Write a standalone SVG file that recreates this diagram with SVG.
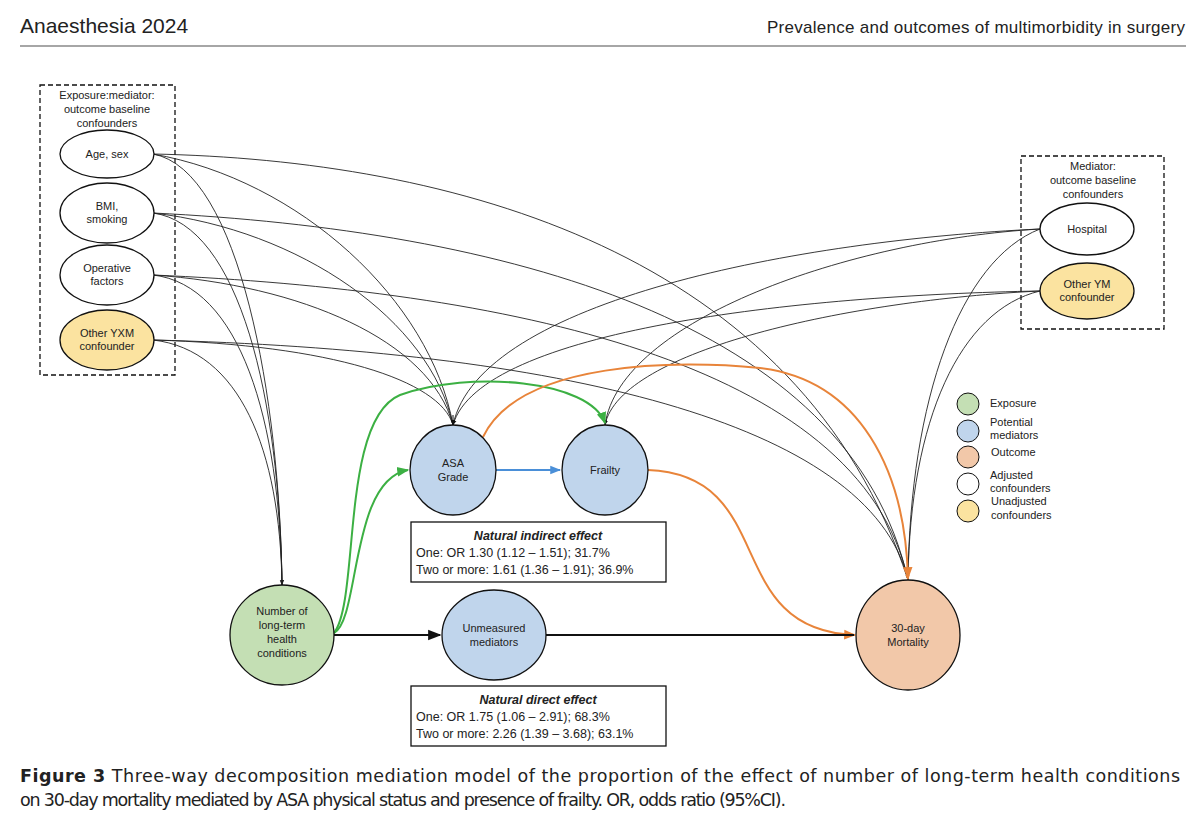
<svg xmlns="http://www.w3.org/2000/svg" width="1200" height="840" viewBox="0 0 1200 840">
<style>
text{font-family:"Liberation Sans",Arial,sans-serif;fill:#222}
.n{font-size:11px;text-anchor:middle}
.e{stroke:#111;stroke-width:1.3}
.c{fill:none;stroke:#222;stroke-width:0.9}
.lg{font-size:11px}
.cap{font-family:"DejaVu Sans",sans-serif;font-size:17.5px}
</style>
<defs>
<marker id="ak" viewBox="0 0 10 10" refX="9" refY="5" markerWidth="6" markerHeight="6" orient="auto"><path d="M0,1 L10,5 L0,9 z" fill="#111"/></marker>
<marker id="ag" viewBox="0 0 10 10" refX="9" refY="5" markerWidth="6" markerHeight="6" orient="auto"><path d="M0,1 L10,5 L0,9 z" fill="#3cb043"/></marker>
<marker id="ao" viewBox="0 0 10 10" refX="9" refY="5" markerWidth="6" markerHeight="6" orient="auto"><path d="M0,1 L10,5 L0,9 z" fill="#e8843a"/></marker>
<marker id="ab" viewBox="0 0 10 10" refX="9" refY="5" markerWidth="6" markerHeight="6" orient="auto"><path d="M0,1 L10,5 L0,9 z" fill="#4a8fd8"/></marker>
</defs>
<rect width="1200" height="840" fill="#fff"/>
<text x="20" y="33" style="font-size:21px">Anaesthesia 2024</text>
<text x="1185" y="33" style="font-size:17px;text-anchor:end" textLength="418">Prevalence and outcomes of multimorbidity in surgery</text>
<line x1="20" y1="46" x2="1186" y2="46" stroke="#888" stroke-width="1.5"/>

<rect x="40" y="85" width="135" height="290" fill="none" stroke="#111" stroke-dasharray="5,3" stroke-width="1.3"/>
<text class="n" x="107" y="99">Exposure:mediator:</text>
<text class="n" x="107" y="113">outcome baseline</text>
<text class="n" x="107" y="127">confounders</text>
<rect x="1021" y="156" width="143" height="173" fill="none" stroke="#111" stroke-dasharray="5,3" stroke-width="1.3"/>
<text class="n" x="1093" y="170">Mediator:</text>
<text class="n" x="1093" y="184">outcome baseline</text>
<text class="n" x="1093" y="198">confounders</text>

<g id="connectors">
<path class="c" marker-end="url(#ak)" d="M153,154 C240,170 280,400 282,585"/>
<path class="c" d="M153,154 C300,180 430,300 453,425"/>
<path class="c" d="M153,154 C450,160 800,250 908,580"/>
<path class="c" d="M153,213 C240,225 280,400 282,585"/>
<path class="c" d="M153,213 C300,230 430,320 453,425"/>
<path class="c" d="M153,213 C500,230 850,320 908,580"/>
<path class="c" d="M153,275 C240,285 280,420 282,585"/>
<path class="c" d="M153,275 C300,285 430,340 453,425"/>
<path class="c" d="M153,275 C500,290 860,360 908,580"/>
<path class="c" d="M153,340 C240,350 280,450 282,585"/>
<path class="c" d="M153,340 C330,345 440,380 453,425"/>
<path class="c" d="M153,340 C550,350 870,420 908,580"/>
<path class="c" d="M1040,229 C800,240 480,300 453,425"/>
<path class="c" d="M1040,229 C850,240 620,320 605,425"/>
<path class="c" d="M1040,229 C960,260 910,400 908,580"/>
<path class="c" marker-end="url(#ak)" d="M1040,291 C800,295 480,330 453,425"/>
<path class="c" marker-end="url(#ak)" d="M1040,291 C850,300 620,350 605,425"/>
<path class="c" d="M1040,291 C960,310 910,420 908,580"/>
<path d="M334,633 C360,620 350,480 408,470" fill="none" stroke="#3cb043" stroke-width="2" marker-end="url(#ag)"/>
<path d="M334,633 C360,600 340,420 400,395 C470,370 590,380 605,423" fill="none" stroke="#3cb043" stroke-width="2" marker-end="url(#ag)"/>
<path d="M483,437 C520,360 680,360 760,368 C860,380 905,470 908,578" fill="none" stroke="#e8843a" stroke-width="2" marker-end="url(#ao)"/>
<path d="M648,470 C780,475 720,630 855,635" fill="none" stroke="#e8843a" stroke-width="2" marker-end="url(#ao)"/>
<path d="M496,470 L560,470" stroke="#4a8fd8" stroke-width="1.8" marker-end="url(#ab)"/>
<path d="M334,635 L440,635" stroke="#111" stroke-width="2.2" marker-end="url(#ak)"/>
<path d="M546,635 L854,635" stroke="#111" stroke-width="2.2"/>
<path d="M453,415 L453,425" stroke="#111" marker-end="url(#ak)"/>
<path d="M907,570 L908,580" stroke="#e8843a" marker-end="url(#ao)"/>
</g>

<g id="age"><ellipse class="e" cx="107" cy="154" rx="47" ry="24" fill="#fff"/><text class="n" x="107" y="158">Age, sex</text></g>
<g id="bmi"><ellipse class="e" cx="107" cy="213" rx="47" ry="30" fill="#fff"/><text class="n" x="107" y="210">BMI,</text><text class="n" x="107" y="223">smoking</text></g>
<g id="oper"><ellipse class="e" cx="107" cy="275" rx="47" ry="30" fill="#fff"/><text class="n" x="107" y="272">Operative</text><text class="n" x="107" y="285">factors</text></g>
<g id="yxm"><ellipse class="e" cx="107" cy="340" rx="47" ry="30" fill="#fbe3a0"/><text class="n" x="107" y="337">Other YXM</text><text class="n" x="107" y="350">confounder</text></g>
<g id="hospital"><ellipse class="e" cx="1087" cy="229" rx="47" ry="26" fill="#fff"/><text class="n" x="1087" y="233">Hospital</text></g>
<g id="ym"><ellipse class="e" cx="1087" cy="291" rx="47" ry="28" fill="#fbe3a0"/><text class="n" x="1087" y="288">Other YM</text><text class="n" x="1087" y="301">confounder</text></g>

<g id="asa"><ellipse class="e" cx="453" cy="470" rx="43" ry="45" fill="#c0d5ec"/><text class="n" x="453" y="467">ASA</text><text class="n" x="453" y="481">Grade</text></g>
<g id="frailty"><ellipse class="e" cx="605" cy="470" rx="43" ry="45" fill="#c0d5ec"/><text class="n" x="605" y="474">Frailty</text></g>
<g id="exposure"><ellipse class="e" cx="282" cy="635" rx="52" ry="50" fill="#c4dfb4"/><text class="n" x="282" y="615">Number of</text><text class="n" x="282" y="629">long-term</text><text class="n" x="282" y="643">health</text><text class="n" x="282" y="657">conditions</text></g>
<g id="unmeasured"><ellipse class="e" cx="494" cy="635" rx="52" ry="45" fill="#c0d5ec"/><text class="n" x="494" y="632">Unmeasured</text><text class="n" x="494" y="646">mediators</text></g>
<g id="mortality"><ellipse class="e" cx="908" cy="635" rx="52" ry="55" fill="#f2c8a9"/><text class="n" x="908" y="632">30-day</text><text class="n" x="908" y="646">Mortality</text></g>

<g id="indirect"><rect x="411" y="522" width="255" height="60" fill="#fff" stroke="#111" stroke-width="1.3"/>
<text x="538" y="540" style="font-size:12.5px;font-weight:bold;font-style:italic;text-anchor:middle">Natural indirect effect</text>
<text x="416" y="557" style="font-size:12.5px">One: OR 1.30 (1.12 – 1.51); 31.7%</text>
<text x="416" y="574" style="font-size:12.5px">Two or more: 1.61 (1.36 – 1.91); 36.9%</text></g>
<g id="direct"><rect x="411" y="686" width="255" height="60" fill="#fff" stroke="#111" stroke-width="1.3"/>
<text x="538" y="704" style="font-size:12.5px;font-weight:bold;font-style:italic;text-anchor:middle">Natural direct effect</text>
<text x="416" y="721" style="font-size:12.5px">One: OR 1.75 (1.06 – 2.91); 68.3%</text>
<text x="416" y="738" style="font-size:12.5px">Two or more: 2.26 (1.39 – 3.68); 63.1%</text></g>

<g id="legend">
<circle cx="968" cy="404" r="11" fill="#c4dfb4" stroke="#111"/>
<circle cx="968" cy="431" r="11" fill="#c0d5ec" stroke="#111"/>
<circle cx="968" cy="457" r="11" fill="#f2c8a9" stroke="#111"/>
<circle cx="968" cy="484" r="11" fill="#fff" stroke="#111"/>
<circle cx="968" cy="511" r="11" fill="#fbe3a0" stroke="#111"/>
<text class="lg" x="990" y="407">Exposure</text>
<text class="lg" x="990" y="426">Potential</text><text class="lg" x="990" y="439">mediators</text>
<text class="lg" x="991" y="456">Outcome</text>
<text class="lg" x="990" y="479">Adjusted</text><text class="lg" x="990" y="492">confounders</text>
<text class="lg" x="991" y="505">Unadjusted</text><text class="lg" x="991" y="519">confounders</text>
</g>

<text class="cap" x="20" y="782" textLength="1160"><tspan font-weight="bold">Figure 3</tspan>  Three-way decomposition mediation model of the proportion of the effect of number of long-term health conditions</text>
<text class="cap" x="20" y="806" textLength="766">on 30-day mortality mediated by ASA physical status and presence of frailty. OR, odds ratio (95%CI).</text>
</svg>
